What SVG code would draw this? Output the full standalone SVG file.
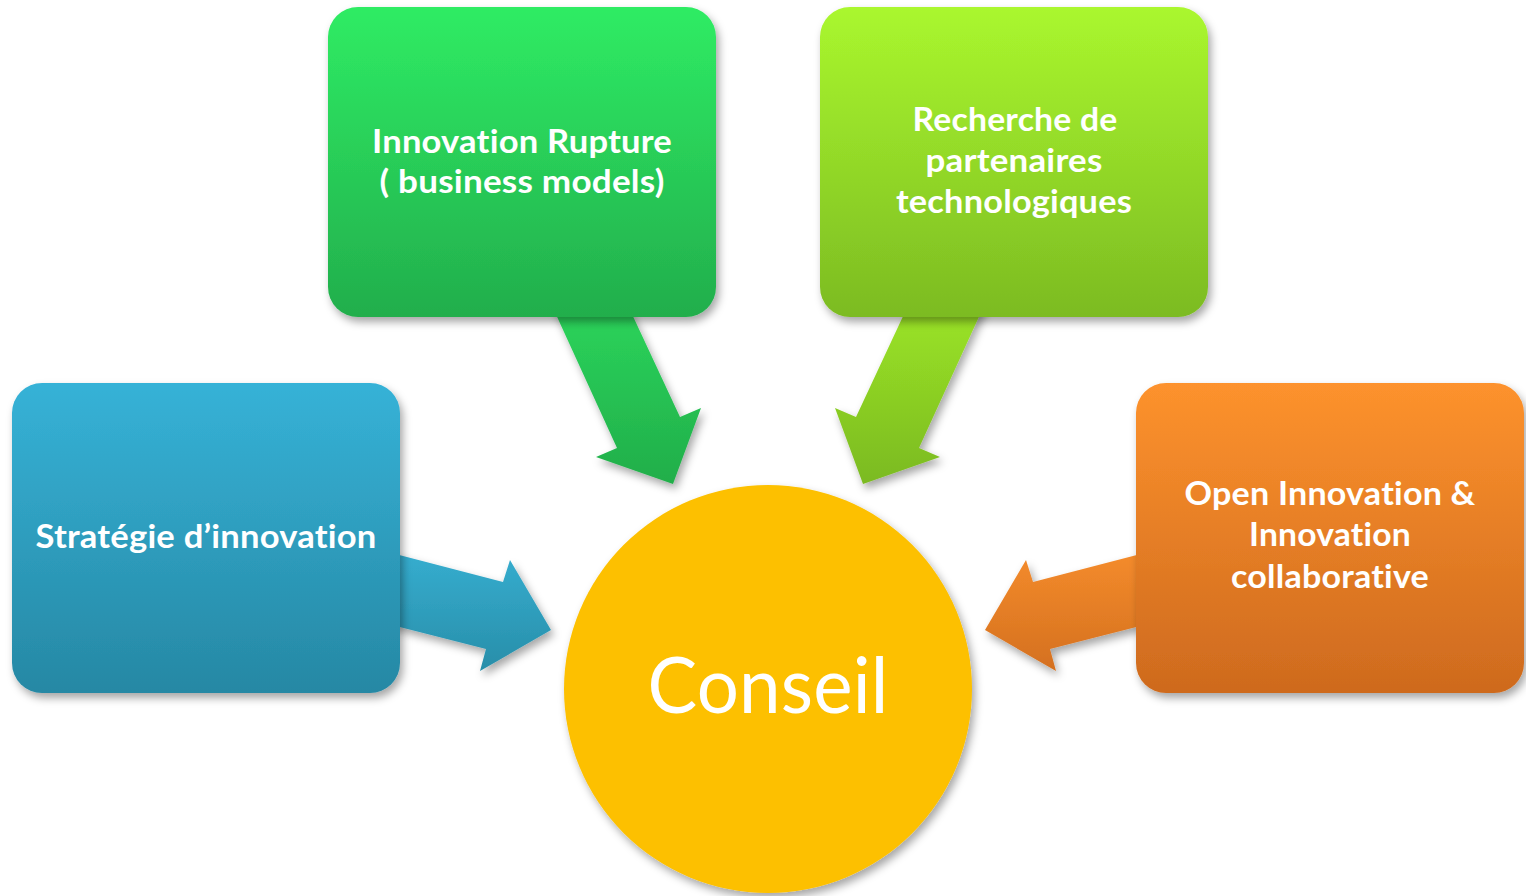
<svg xmlns="http://www.w3.org/2000/svg" width="1526" height="896" viewBox="0 0 1526 896">
<style>
.lbl{font-family:Lato,"Open Sans","Liberation Sans",sans-serif;font-weight:bold;font-size:33px;fill:#ffffff;text-anchor:middle;letter-spacing:0.2px;font-variant-ligatures:none;font-feature-settings:"liga" 0,"clig" 0,"dlig" 0,"calt" 0}
.big{font-family:Lato,"Open Sans","Liberation Sans",sans-serif;font-size:77px;fill:#ffffff;text-anchor:middle;letter-spacing:0.2px;font-variant-ligatures:none}
.sh{filter:url(#ds)}
</style>
<defs>
<filter id="ds" x="-10%" y="-10%" width="125%" height="130%">
<feDropShadow dx="3" dy="5" stdDeviation="4" flood-color="#000" flood-opacity="0.35"/>
</filter>
<linearGradient id="gBlue" x1="0" y1="0" x2="0" y2="1"><stop offset="0" stop-color="#36b2d7"/><stop offset="1" stop-color="#2688a4"/></linearGradient>
<linearGradient id="gGreen" x1="0" y1="0" x2="0" y2="1"><stop offset="0" stop-color="#2fec64"/><stop offset="1" stop-color="#22ae4c"/></linearGradient>
<linearGradient id="gLime" x1="0" y1="0" x2="0" y2="1"><stop offset="0" stop-color="#aaf72e"/><stop offset="1" stop-color="#7cbb22"/></linearGradient>
<linearGradient id="gOrange" x1="0" y1="0" x2="0" y2="1"><stop offset="0" stop-color="#fd922d"/><stop offset="1" stop-color="#ce6a1e"/></linearGradient>
<linearGradient id="aBlue" x1="0" y1="0" x2="0" y2="1"><stop offset="0" stop-color="#36aed0"/><stop offset="1" stop-color="#288ea9"/></linearGradient>
<linearGradient id="aGreen" x1="0" y1="0" x2="0" y2="1"><stop offset="0" stop-color="#2cd65c"/><stop offset="1" stop-color="#21ae4a"/></linearGradient>
<linearGradient id="aLime" x1="0" y1="0" x2="0" y2="1"><stop offset="0" stop-color="#9de627"/><stop offset="1" stop-color="#7bba21"/></linearGradient>
<linearGradient id="aOrange" x1="0" y1="0" x2="0" y2="1"><stop offset="0" stop-color="#f58c2c"/><stop offset="1" stop-color="#d4701f"/></linearGradient>
</defs>
<rect width="1526" height="896" fill="#ffffff"/>
<g id="connectors">
<polygon class="sh" fill="url(#aBlue)" points="380,550 503,582 510,560 551,630 480,671 486,649 380,622"/>
<polygon class="sh" fill="url(#aOrange)" points="1156,550 1033,582 1026,560 985,630 1056,671 1050,649 1156,622"/>
<polygon class="sh" fill="url(#aGreen)" points="548,297 617,448 596,457 673,484 701,408 680,417 624,297"/>
<polygon class="sh" fill="url(#aLime)" points="988,297 919,448 940,457 863,484 835,408 856,417 912,297"/>
</g>
<g id="conseil">
<circle class="sh" cx="768" cy="689" r="204" fill="#fdc000"/>
<text class="big" x="768" y="713" textLength="241" lengthAdjust="spacingAndGlyphs">Conseil</text>
</g>
<g id="strategie">
<rect class="sh" x="12" y="383" width="388" height="310" rx="30" fill="url(#gBlue)"/>
<text class="lbl" x="206" y="548" textLength="341" lengthAdjust="spacingAndGlyphs">Stratégie d’innovation</text>
</g>
<g id="rupture">
<rect class="sh" x="328" y="7" width="388" height="310" rx="30" fill="url(#gGreen)"/>
<text class="lbl" x="522" y="153" textLength="300" lengthAdjust="spacingAndGlyphs">Innovation Rupture</text>
<text class="lbl" x="522" y="193" textLength="285" lengthAdjust="spacingAndGlyphs">( business models)</text>
</g>
<g id="recherche">
<rect class="sh" x="820" y="7" width="388" height="310" rx="30" fill="url(#gLime)"/>
<text class="lbl" x="1015" y="131" textLength="205" lengthAdjust="spacingAndGlyphs">Recherche de</text>
<text class="lbl" x="1014" y="172" textLength="177" lengthAdjust="spacingAndGlyphs">partenaires</text>
<text class="lbl" x="1014" y="213" textLength="236" lengthAdjust="spacingAndGlyphs">technologiques</text>
</g>
<g id="open">
<rect class="sh" x="1136" y="383" width="388" height="310" rx="30" fill="url(#gOrange)"/>
<text class="lbl" x="1330" y="505" textLength="291" lengthAdjust="spacingAndGlyphs">Open Innovation &amp;</text>
<text class="lbl" x="1330" y="546" textLength="162" lengthAdjust="spacingAndGlyphs">Innovation</text>
<text class="lbl" x="1330" y="588" textLength="198" lengthAdjust="spacingAndGlyphs">collaborative</text>
</g>
</svg>
